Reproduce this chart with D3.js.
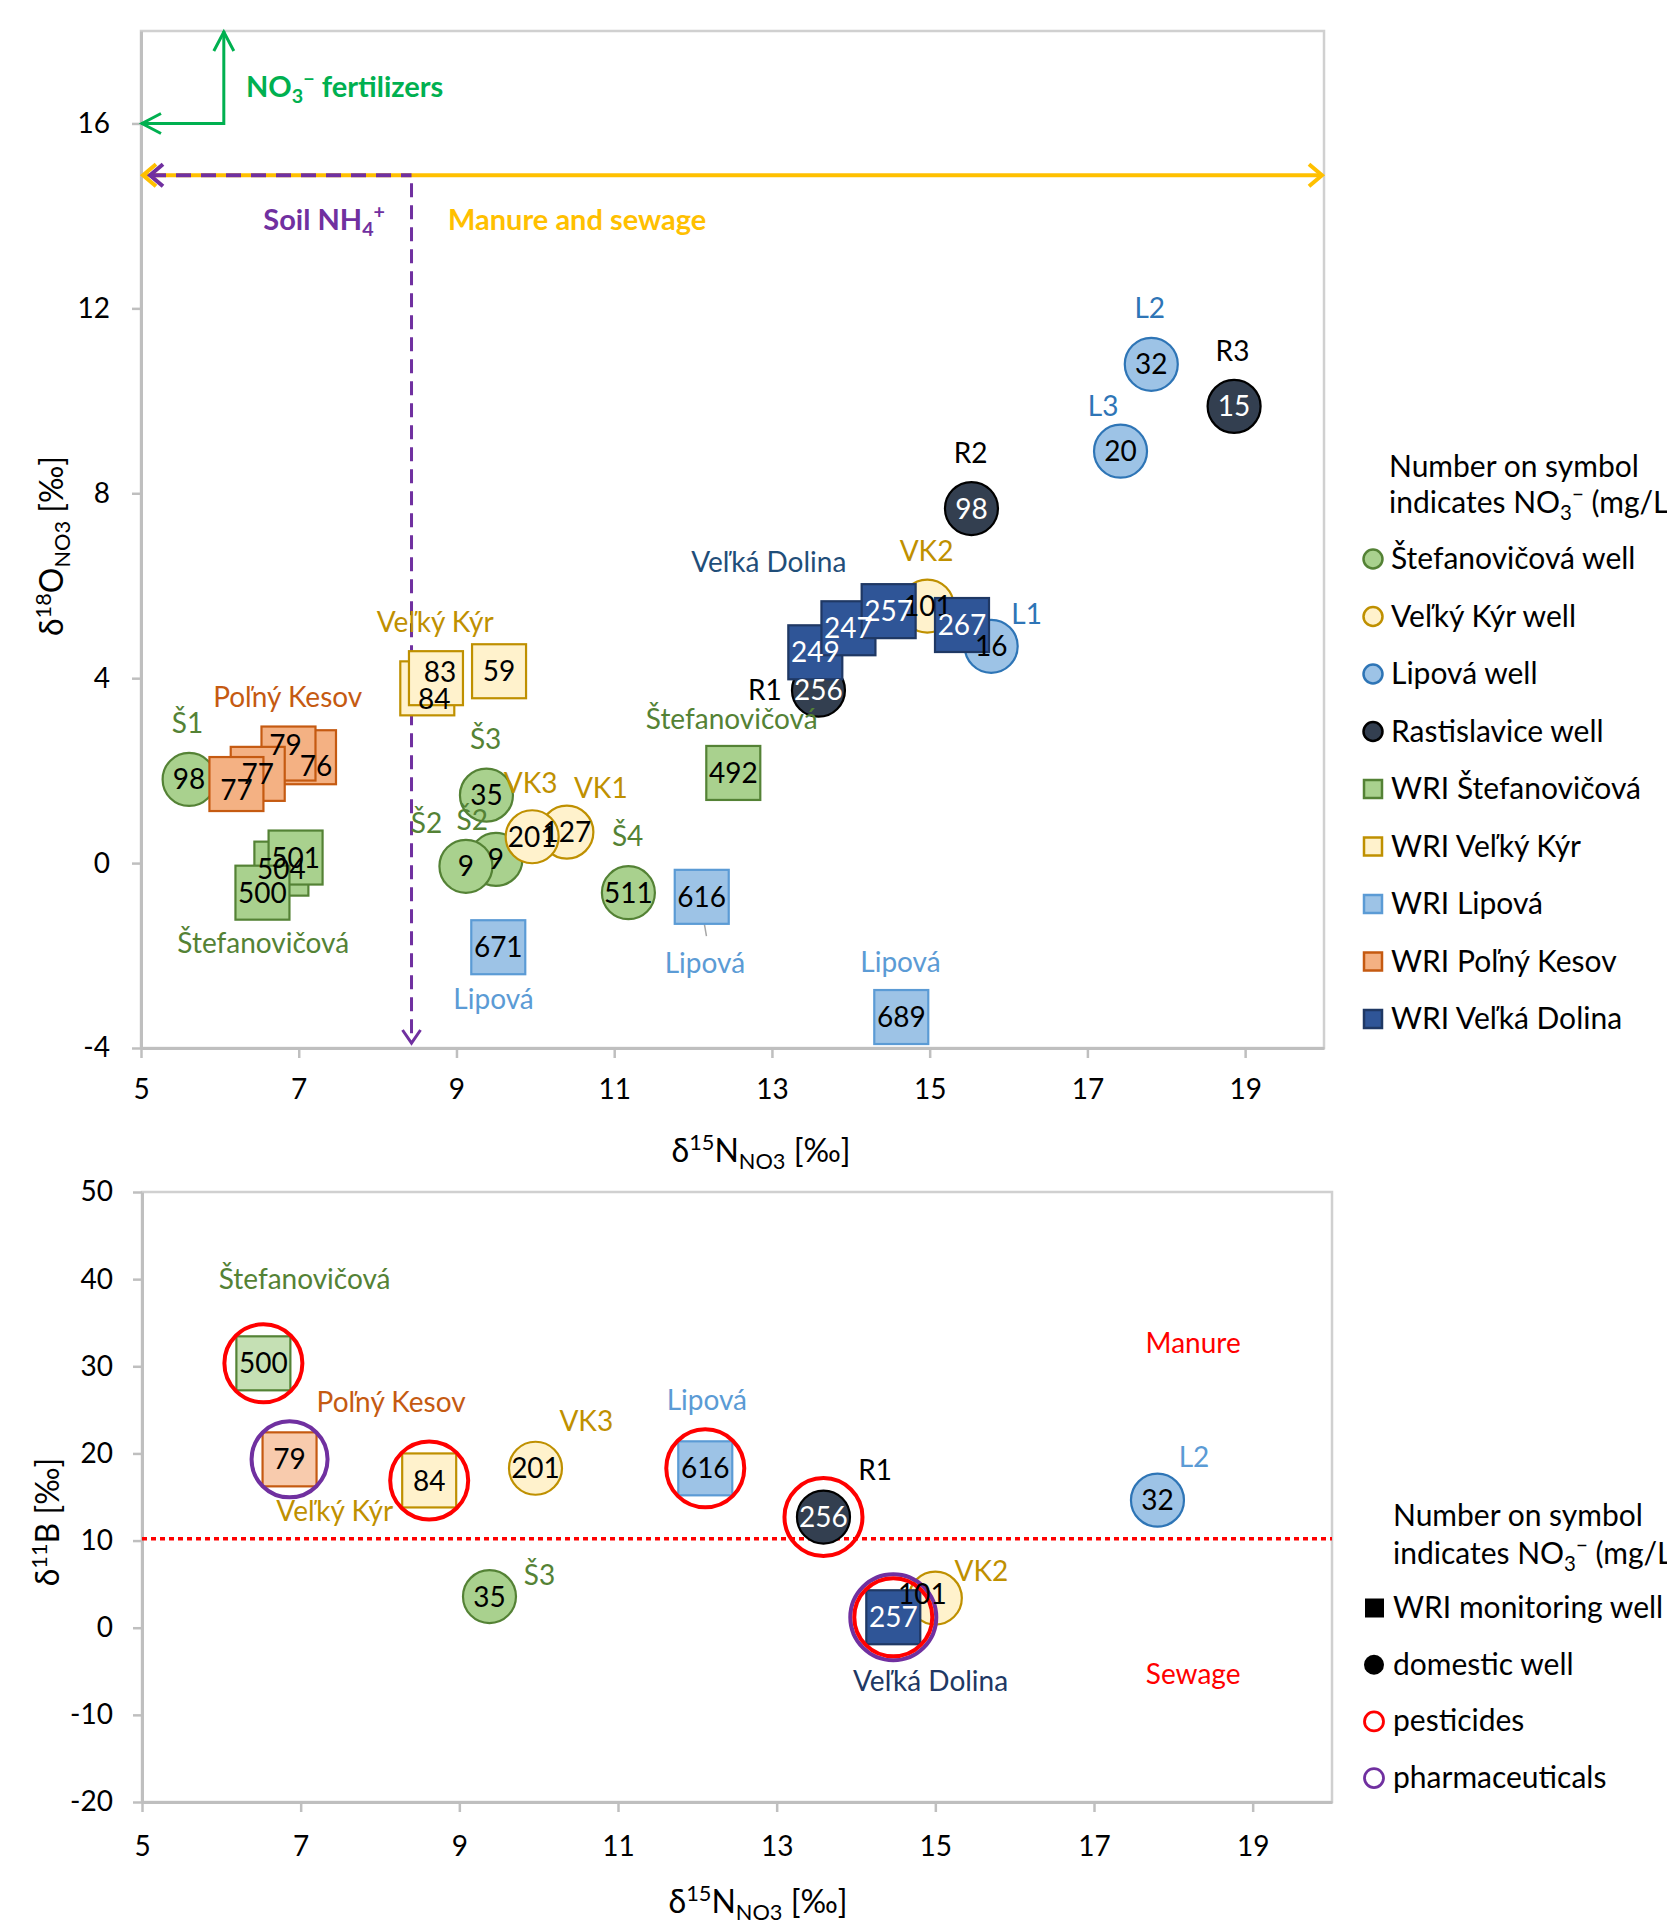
<!DOCTYPE html>
<html>
<head>
<meta charset="utf-8">
<script src="https://cdn.jsdelivr.net/npm/d3@7"></script>
<style>
  body { margin: 0; background: #fff; }
  svg text { font-family: Lato, "Open Sans", "Noto Sans", sans-serif; }
</style>
</head>
<body>
<div id="chart"></div>
<script>
// ---- data ----
var seriesNames = ["Štefanovičová well", "Veľký Kýr well", "Lipová well", "Rastislavice well",
  "WRI Štefanovičová", "WRI Veľký Kýr", "WRI Lipová", "WRI Poľný Kesov", "WRI Veľká Dolina"];

// upper plot: d15N vs d18O (drawing order: wells first, then WRI)
var topSeries = [0,0,0,0,0, 1,1,1, 2,2,2, 3,3,3, 4,4,4,4, 5,5,5, 6,6,6, 7,7,7,7, 8,8,8,8];
var topN15 = [5.61,9.50,9.12,9.38,11.18, 10.40,9.96,14.97, 15.78,17.81,17.42, 13.59,15.53,18.86,
  6.78,6.96,6.54,12.51, 8.63,8.74,9.54, 12.11,9.53,14.64, 7.13,6.87,6.48,6.21, 13.55,13.97,14.48,15.41];
var topO18 = [1.81,0.08,-0.07,1.47,-0.64, 0.67,0.57,5.56, 4.69,10.79,8.91, 3.74,7.67,9.88,
  -0.12,0.12,-0.64,1.95, 3.78,4.00,4.15, -0.73,-1.82,-3.33, 2.29,2.37,1.93,1.71, 4.56,5.08,5.45,5.15];
var topNO3 = [98,9,9,35,511, 127,201,101, 16,32,20, 256,98,15,
  504,501,500,492, 84,83,59, 616,671,689, 76,79,77,77, 249,247,257,267];

// lower plot: d15N vs d11B
var botSeries = [0,1,1,2,3,4,5,6,7,8];
var botN15 = [9.38,9.96,15.0,17.80,13.59,6.53,8.62,12.10,6.86,14.47];
var botB11 = [3.57,18.3,3.4,14.64,12.7,30.34,16.9,18.29,19.32,1.2];
var botNO3 = [35,201,101,32,256,500,84,616,79,257];
var botPesticides = [0,0,0,0,1,1,1,1,0,1];
var botPharma = [0,0,0,0,0,0,0,0,1,1];

var xTicks = [5,7,9,11,13,15,17,19];
var topYTicks = [-4,0,4,8,12,16];
var botYTicks = [-20,-10,0,10,20,30,40,50];

// site labels [text, d15N, value, colour key]
var topNotes = [
  ["L2",17.79,12.02,"blue"],["R3",18.84,11.09,"black"],["L3",17.20,9.89,"blue"],["R2",15.52,8.88,"black"],
  ["VK2",14.96,6.76,"gold"],["Veľká Dolina",12.96,6.52,"navy"],["L1",16.23,5.40,"blue"],["R1",12.91,3.74,"black"],
  ["Štefanovičová",12.49,3.12,"green"],["Veľký Kýr",8.73,5.21,"gold"],["Poľný Kesov",6.86,3.59,"orange"],
  ["Š1",5.59,3.04,"green"],["Š3",9.37,2.69,"green"],["VK3",9.94,1.74,"gold"],["VK1",10.83,1.63,"gold"],
  ["Š2",8.62,0.86,"green"],["Š2",9.20,0.94,"green"],["Š4",11.17,0.59,"green"],
  ["Štefanovičová",6.55,-1.72,"green"],["Lipová",9.47,-2.94,"light"],["Lipová",12.15,-2.17,"light"],
  ["Lipová",14.63,-2.14,"light"]
];
var botNotes = [
  ["Štefanovičová",7.05,40.0,"green"],["Poľný Kesov",8.14,25.9,"orange"],["VK3",10.6,23.7,"gold"],
  ["Lipová",12.12,26.1,"light"],["Veľký Kýr",7.43,13.4,"gold"],["Š3",10.01,6.1,"green"],
  ["R1",14.24,18.1,"black"],["L2",18.26,19.6,"light"],["VK2",15.58,6.5,"gold"],
  ["Veľká Dolina",14.94,-6.1,"navy2"],["Manure",18.25,32.7,"red"],["Sewage",18.25,-5.3,"red"]
];

var botLegend = ["WRI monitoring well", "domestic well", "pesticides", "pharmaceuticals"];

// ---- styles ----
var fills = ["#A9D18E","#FFF2CC","#9DC3E6","#333F50","#A9D18E","#FFF2CC","#9DC3E6","#F4B183","#2F5597"];
var strokes = ["#548235","#BF9000","#2E75B6","#000000","#548235","#BF9000","#5B9BD5","#C55A11","#1F3864"];
var botFills = fills.slice(); botFills[4] = "#C5E0B4"; botFills[7] = "#F8CBAD";
var noteColors = {blue:"#2E75B6", black:"#000", gold:"#BF9000", navy:"#1F4E79", navy2:"#203864",
  green:"#548235", orange:"#C55A11", light:"#5B9BD5", red:"#FF0000"};
var labelNudge = {18:[7,11], 19:[4,-6], 24:[7,9], 25:[-3,-9], 27:[0,6]};
var botNudge = {2:[-13,-4]};

var W = 1667, H = 1923;
var svg = d3.select("#chart").append("svg").attr("width", W).attr("height", H);

var xTop = d3.scaleLinear().domain([5,20]).range([141,1324]);
var yTop = d3.scaleLinear().domain([-4,18]).range([1048,31]);
var xBot = d3.scaleLinear().domain([5,20]).range([142,1332]);
var yBot = d3.scaleLinear().domain([-20,50]).range([1802,1192]);

function isSquare(s) { return s >= 4; }

function richText(parent, parts, size) {
  var t = parent.append("text");
  var shift = 0;
  parts.forEach(function(p) {
    var target = p[1] === 1 ? -0.38 * size : (p[1] === -1 ? 0.22 * size : 0);
    t.append("tspan").attr("dy", target - shift)
      .style("font-size", (p[1] ? size * 0.68 : size) + "px").text(p[0]);
    shift = target;
  });
  return t;
}

function drawFrame(x, y, yTicks, padX, padY) {
  svg.append("rect")
    .attr("x", x.range()[0]).attr("y", y.range()[1])
    .attr("width", x.range()[1] - x.range()[0]).attr("height", y.range()[0] - y.range()[1])
    .attr("fill", "none").attr("stroke", "#D0D0D0").attr("stroke-width", 2.5);

  var ax = svg.append("g").attr("transform", "translate(0," + y.range()[0] + ")")
    .call(d3.axisBottom(x).tickValues(xTicks).tickSize(10).tickSizeOuter(0).tickPadding(padX)
      .tickFormat(function(d) { return String(d); }));
  var ay = svg.append("g").attr("transform", "translate(" + x.range()[0] + ",0)")
    .call(d3.axisLeft(y).tickValues(yTicks).tickSize(9).tickSizeOuter(0).tickPadding(padY)
      .tickFormat(function(d) { return String(d); }));
  [ax, ay].forEach(function(a) {
    a.select(".domain").attr("stroke", "#BFBFBF").attr("stroke-width", 3);
    a.selectAll(".tick line").attr("stroke", "#BFBFBF").attr("stroke-width", 2.5);
    a.selectAll(".tick text").attr("fill", "#000").style("font-size", "28px")
      .style("font-family", "Lato, 'Open Sans', sans-serif");
  });
}

function drawMarkers(g, xs, ys, ser, x, y, fillArr) {
  d3.range(xs.length).forEach(function(i) {
    var s = ser[i], px = x(xs[i]), py = y(ys[i]);
    if (isSquare(s)) {
      g.append("rect").attr("x", px - 27).attr("y", py - 27).attr("width", 54).attr("height", 54)
        .attr("fill", fillArr[s]).attr("stroke", strokes[s]).attr("stroke-width", 2.2);
    } else {
      g.append("circle").attr("cx", px).attr("cy", py).attr("r", 26.5)
        .attr("fill", fillArr[s]).attr("stroke", strokes[s]).attr("stroke-width", 2.2);
    }
  });
}

function drawLabels(g, xs, ys, ser, vals, x, y, nudge) {
  d3.range(xs.length).forEach(function(i) {
    var n = nudge[i] || [0, 0];
    var s = ser[i];
    g.append("text").attr("x", x(xs[i]) + n[0]).attr("y", y(ys[i]) + n[1]).attr("dy", "0.36em")
      .attr("text-anchor", "middle").style("font-size", "28px")
      .attr("fill", (s === 3 || s === 8) ? "#fff" : "#000").text(vals[i]);
  });
}

function drawNotes(g, notes, x, y) {
  notes.forEach(function(d) {
    g.append("text").attr("x", x(d[1])).attr("y", y(d[2])).attr("dy", "0.36em")
      .attr("text-anchor", "middle").style("font-size", "28px")
      .attr("fill", noteColors[d[3]]).text(d[0]);
  });
}

function chevron(g, tx, ty, dir, back, half, color, w) {
  // dir points toward the tip
  var bx = tx - dir[0] * back, by = ty - dir[1] * back;
  var nx = -dir[1] * half, ny = dir[0] * half;
  g.append("path").attr("d", "M" + (bx + nx) + "," + (by + ny) + "L" + tx + "," + ty + "L" + (bx - nx) + "," + (by - ny))
    .attr("fill", "none").attr("stroke", color).attr("stroke-width", w);
}

// ================= upper chart =================
drawFrame(xTop, yTop, topYTicks, 21, 22);

var ann = svg.append("g");
// NO3- fertilizers arrow
var gx = xTop(6.05), gy = yTop(16);
ann.append("path").attr("d", "M" + gx + "," + yTop(18) + "V" + gy + "H" + xTop(5))
  .attr("fill", "none").attr("stroke", "#00B050").attr("stroke-width", 3);
chevron(ann, gx, yTop(18) + 1, [0, -1], 19, 10, "#00B050", 3);
chevron(ann, xTop(5) + 1, gy, [-1, 0], 19, 10, "#00B050", 3);
richText(ann, [["NO", 0], ["3", -1], ["−", 1], [" fertilizers", 0]], 29)
  .attr("x", 246).attr("y", 97).attr("fill", "#00B050").style("font-weight", "bold");

// manure and sewage range
var oy = yTop(14.88);
ann.append("line").attr("x1", xTop(5) + 2).attr("x2", xTop(20) - 2).attr("y1", oy).attr("y2", oy)
  .attr("stroke", "#FFC000").attr("stroke-width", 4);
chevron(ann, xTop(5) + 2, oy, [-1, 0], 13, 11, "#FFC000", 4);
chevron(ann, xTop(20) - 2, oy, [1, 0], 13, 11, "#FFC000", 4);
// soil NH4+ range (dashed)
var px = xTop(8.43);
ann.append("path").attr("d", "M" + (xTop(5) + 10) + "," + oy + "H" + px)
  .attr("fill", "none").attr("stroke", "#7030A0").attr("stroke-width", 4).attr("stroke-dasharray", "15,10");
ann.append("path").attr("d", "M" + px + "," + (oy + 8) + "V" + (yTop(-4) - 6))
  .attr("fill", "none").attr("stroke", "#7030A0").attr("stroke-width", 3).attr("stroke-dasharray", "14,8");
chevron(ann, xTop(5) + 9, oy, [-1, 0], 13, 11, "#7030A0", 4);
chevron(ann, px, yTop(-4) - 5, [0, 1], 13, 9, "#7030A0", 3);
richText(ann, [["Soil NH", 0], ["4", -1], ["+", 1]], 29)
  .attr("x", 385).attr("y", 230).attr("text-anchor", "end").attr("fill", "#7030A0").style("font-weight", "bold");
ann.append("text").attr("x", 448).attr("y", 230).attr("fill", "#FFC000").style("font-weight", "bold")
  .style("font-size", "29px").text("Manure and sewage");

// leader line for Lipová 616
ann.append("line").attr("x1", xTop(12.17)).attr("y1", yTop(-1.58)).attr("x2", xTop(12.11)).attr("y2", yTop(-0.99))
  .attr("stroke", "#A6A6A6").attr("stroke-width", 1.5);

drawMarkers(svg.append("g"), topN15, topO18, topSeries, xTop, yTop, fills);
drawNotes(svg.append("g"), topNotes, xTop, yTop);
drawLabels(svg.append("g"), topN15, topO18, topSeries, topNO3, xTop, yTop, labelNudge);

// axis titles
richText(svg, [["δ", 0], ["15", 1], ["N", 0], ["NO3", -1], [" [‰]", 0]], 32)
  .attr("x", 761).attr("y", 1162).attr("text-anchor", "middle").attr("fill", "#000");
richText(svg.append("g").attr("transform", "translate(63,546) rotate(-90)"),
  [["δ", 0], ["18", 1], ["O", 0], ["NO3", -1], [" [‰]", 0]], 32)
  .attr("text-anchor", "middle").attr("fill", "#000");

// legend (upper)
var lg = svg.append("g");
lg.append("text").attr("x", 1389).attr("y", 477).style("font-size", "30px").text("Number on symbol");
richText(lg, [["indicates NO", 0], ["3", -1], ["−", 1], [" (mg/L)", 0]], 30).attr("x", 1389).attr("y", 513);
seriesNames.forEach(function(name, i) {
  var cy = 559 + i * 57.5;
  if (isSquare(i)) {
    lg.append("rect").attr("x", 1364).attr("y", cy - 9).attr("width", 18).attr("height", 18)
      .attr("fill", fills[i]).attr("stroke", strokes[i]).attr("stroke-width", 2.5);
  } else {
    lg.append("circle").attr("cx", 1373).attr("cy", cy).attr("r", 9.5)
      .attr("fill", fills[i]).attr("stroke", strokes[i]).attr("stroke-width", 2.5);
  }
  lg.append("text").attr("x", 1391).attr("y", cy + 10).style("font-size", "30px").text(name);
});

// ================= lower chart =================
drawFrame(xBot, yBot, botYTicks, 24, 20);

svg.append("line").attr("x1", xBot(5)).attr("x2", xBot(20)).attr("y1", yBot(10.2)).attr("y2", yBot(10.2))
  .attr("stroke", "#FF0000").attr("stroke-width", 3.5).attr("stroke-dasharray", "5,4");

var gBot = svg.append("g");
drawMarkers(gBot, botN15, botB11, botSeries, xBot, yBot, botFills);
// contaminant rings
d3.range(botN15.length).forEach(function(i) {
  if (botPharma[i]) {
    gBot.append("circle").attr("cx", xBot(botN15[i])).attr("cy", yBot(botB11[i])).attr("r", botPesticides[i] ? 43 : 38)
      .attr("fill", "none").attr("stroke", "#7030A0").attr("stroke-width", 4);
  }
  if (botPesticides[i]) {
    gBot.append("circle").attr("cx", xBot(botN15[i])).attr("cy", yBot(botB11[i])).attr("r", 39)
      .attr("fill", "none").attr("stroke", "#FF0000").attr("stroke-width", 4);
  }
});
drawNotes(svg.append("g"), botNotes, xBot, yBot);
drawLabels(svg.append("g"), botN15, botB11, botSeries, botNO3, xBot, yBot, botNudge);

richText(svg, [["δ", 0], ["15", 1], ["N", 0], ["NO3", -1], [" [‰]", 0]], 32)
  .attr("x", 758).attr("y", 1913).attr("text-anchor", "middle").attr("fill", "#000");
richText(svg.append("g").attr("transform", "translate(59,1522) rotate(-90)"),
  [["δ", 0], ["11", 1], ["B [‰]", 0]], 32)
  .attr("text-anchor", "middle").attr("fill", "#000");

// legend (lower)
var lb = svg.append("g");
lb.append("text").attr("x", 1393).attr("y", 1526).style("font-size", "30px").text("Number on symbol");
richText(lb, [["indicates NO", 0], ["3", -1], ["−", 1], [" (mg/L)", 0]], 30).attr("x", 1393).attr("y", 1564);
botLegend.forEach(function(name, i) {
  var cy = 1608 + i * 56.7;
  if (i === 0) {
    lb.append("rect").attr("x", 1365).attr("y", cy - 9.5).attr("width", 19).attr("height", 19).attr("fill", "#000");
  } else if (i === 1) {
    lb.append("circle").attr("cx", 1374).attr("cy", cy).attr("r", 10).attr("fill", "#000");
  } else {
    lb.append("circle").attr("cx", 1374).attr("cy", cy).attr("r", 9.5).attr("fill", "none")
      .attr("stroke", i === 2 ? "#FF0000" : "#7030A0").attr("stroke-width", 2.8);
  }
  lb.append("text").attr("x", 1393).attr("y", cy + 10).style("font-size", "30px").text(name);
});
</script>
</body>
</html>
